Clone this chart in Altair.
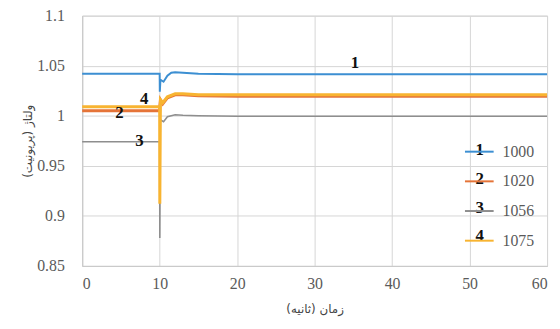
import altair as alt
import pandas as pd

# ---- data ----
series_names = ["1000", "1020", "1056", "1075"]
series_nums = ["1", "2", "3", "4"]
colors = ["#3C8FD2", "#E57438", "#8E8E8E", "#F8B431"]

t_1000 = [0, 10.0, 10.02, 10.1, 10.5, 11.0, 11.5, 12.0, 13.0, 15.0, 20.0, 60.0]
v_1000 = [1.042, 1.042, 1.024, 1.036, 1.034, 1.040, 1.043, 1.0435, 1.043, 1.042, 1.0415, 1.0415]

t_1020 = [0, 10.0, 10.02, 10.1, 10.4, 11.0, 12.0, 13.0, 15.0, 20.0, 60.0]
v_1020 = [1.005, 1.005, 1.010, 1.016, 1.012, 1.018, 1.021, 1.021, 1.020, 1.0195, 1.0195]

t_1056 = [0, 10.0, 10.02, 10.08, 10.5, 11.0, 12.0, 13.0, 15.0, 20.0, 60.0]
v_1056 = [0.974, 0.974, 0.878, 0.996, 0.994, 0.999, 1.001, 1.0005, 1.000, 0.9995, 0.9995]

t_1075 = [0, 10.0, 10.02, 10.1, 10.4, 11.0, 12.0, 13.0, 15.0, 20.0, 60.0]
v_1075 = [1.009, 1.009, 0.912, 1.016, 1.013, 1.019, 1.022, 1.022, 1.021, 1.021, 1.021]

# in-plot number labels
lab_text = ["1", "4", "2", "3"]
lab_t = [35.2, 8.0, 4.8, 7.4]
lab_v = [1.053, 1.0165, 1.003, 0.975]

x_ticks = [0, 10, 20, 30, 40, 50, 60]
y_ticks = [0.85, 0.9, 0.95, 1.0, 1.05, 1.1]

series_data = {"1000": (t_1000, v_1000), "1020": (t_1020, v_1020),
               "1056": (t_1056, v_1056), "1075": (t_1075, v_1075)}
stroke_w = {"1000": 2.0, "1020": 3.0, "1056": 1.6, "1075": 3.0}

labels_df = pd.DataFrame({"t": lab_t, "v": lab_v, "txt": lab_text})

W, H = 470, 253
serif = "Liberation Serif"

xscale = alt.Scale(domain=[0, 60], nice=False, zero=False)
yscale = alt.Scale(domain=[0.85, 1.1], nice=False, zero=False)

color = alt.Color("series:N",
                  scale=alt.Scale(domain=series_names, range=colors),
                  legend=alt.Legend(title=None, orient="none", legendX=386, legendY=122,
                                    symbolType="stroke", symbolSize=841, symbolStrokeWidth=2,
                                    labelFont=serif, labelFontSize=16, labelColor="#5A5A5A",
                                    labelOffset=8, rowPadding=6))

xaxis = alt.Axis(values=x_ticks, title="زمان (ثانیه)", format="d",
                 labelFont=serif, labelFontSize=16, labelColor="#5A5A5A")
yaxis = alt.Axis(values=y_ticks, title="ولتاژ (پریونیت)", labelExpr="format(datum.value, '')",
                 labelFont=serif, labelFontSize=16, labelColor="#5A5A5A")

layers = []
for name in ["1056", "1000", "1020", "1075"]:
    ts, vs = series_data[name]
    d = pd.DataFrame({"t": ts, "v": vs, "series": [name] * len(ts)})
    layers.append(
        alt.Chart(d).mark_line(strokeWidth=stroke_w[name]).encode(
            x=alt.X("t:Q", scale=xscale, axis=xaxis),
            y=alt.Y("v:Q", scale=yscale, axis=yaxis),
            color=color,
            order="t:Q",
        ))

num_labels = alt.Chart(labels_df).mark_text(
    font=serif, fontSize=17, fontWeight="bold", color="#111", baseline="middle", align="center"
).encode(x=alt.X("t:Q", scale=xscale), y=alt.Y("v:Q", scale=yscale), text="txt:N")

one = pd.DataFrame({"a": [0]})
legend_nums = []
for i, n in enumerate(series_nums):
    legend_nums.append(
        alt.Chart(one).mark_text(font=serif, fontSize=17, fontWeight="bold", color="#111",
                                 baseline="middle", align="center").encode(
            x=alt.value(402), y=alt.value(136 + 29 * i), text=alt.value(n)))

chart = alt.layer(*layers, num_labels, *legend_nums).properties(
    width=W, height=H,
    autosize=alt.AutoSizeParams(type="none"),
    padding={"left": 75, "top": 6, "right": 5, "bottom": 60},
).configure_view(stroke="#D0D0D0", strokeWidth=1).configure_axis(
    grid=True, gridColor="#D6D6D6", gridWidth=1,
    domainColor="#C8C8C8", ticks=False,
    titleFont="DejaVu Sans", titleFontSize=12, titleFontWeight="normal", titleColor="#444",
).configure_axisY(labelPadding=18, titlePadding=2).configure_axisX(labelPadding=10, titlePadding=12)

chart.save("out.html", embed_options={"renderer": "svg", "actions": False})
